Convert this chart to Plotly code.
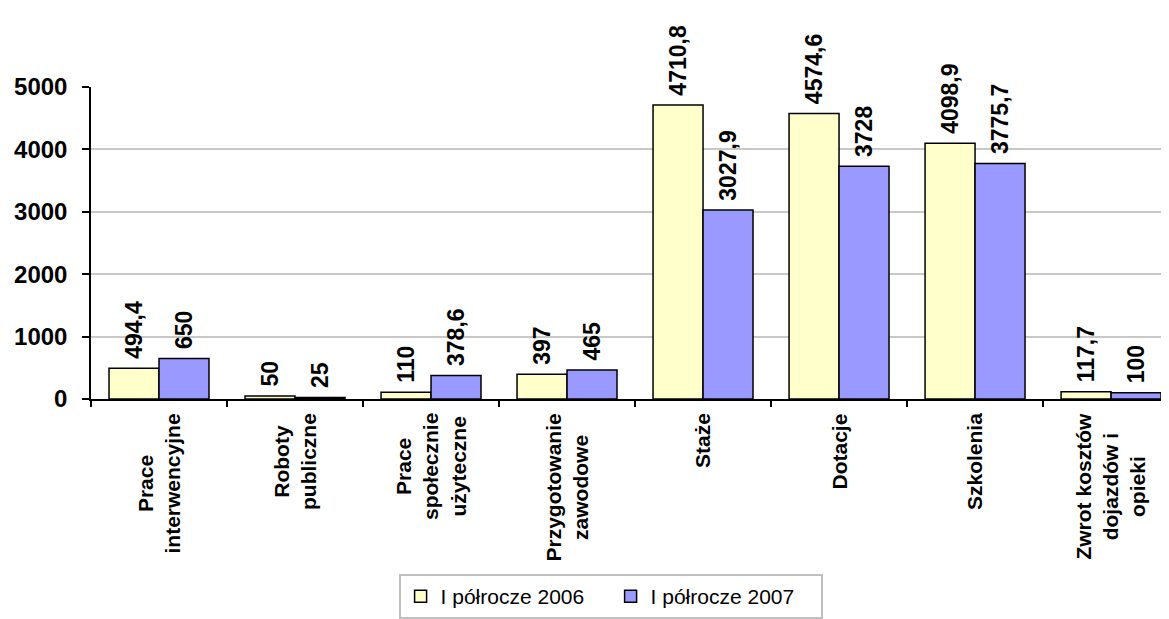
import plotly.graph_objects as go

categories = [
    "Prace<br>interwencyjne",
    "Roboty<br>publiczne",
    "Prace<br>społecznie<br>użyteczne",
    "Przygotowanie<br>zawodowe",
    "Staże",
    "Dotacje",
    "Szkolenia",
    "Zwrot kosztów<br>dojazdów i<br>opieki",
]
h1_2006 = [494.4, 50, 110, 397, 4710.8, 4574.6, 4098.9, 117.7]
h1_2007 = [650, 25, 378.6, 465, 3027.9, 3728, 3775.7, 100]

FONT = "Liberation Sans, Arial, sans-serif"


def fmt(v):
    # polish decimal comma, leading nbsp keeps a small gap above the bar
    return "\u00a0" + f"{v:g}".replace(".", ",")


x_idx = list(range(len(categories)))

fig = go.Figure()
for name, vals, color in [
    ("I półrocze 2006", h1_2006, "#FFFFCC"),
    ("I półrocze 2007", h1_2007, "#9999FF"),
]:
    fig.add_trace(go.Bar(
        x=x_idx,
        y=vals,
        name=name,
        marker=dict(color=color, line=dict(color="black", width=1.5)),
        text=[fmt(v) for v in vals],
        textposition="outside",
        textangle=-90,
        textfont=dict(family=FONT, size=23, color="black", weight="bold"),
        cliponaxis=False,
        constraintext="none",
    ))

# category labels, centred multi-line like the original
for i, cat in enumerate(categories):
    fig.add_annotation(
        x=i, y=-0.04, xref="x", yref="paper",
        text=f"<b>{cat}</b>", textangle=-90,
        xanchor="center", yanchor="top", align="center",
        showarrow=False,
        font=dict(family=FONT, size=21, color="black"),
    )

fig.update_layout(
    width=1161,
    height=611,
    margin=dict(l=83, r=0, t=79, b=220),
    plot_bgcolor="white",
    paper_bgcolor="white",
    barmode="group",
    bargap=0.265,
    bargroupgap=0,
    font=dict(family=FONT, color="black"),
    showlegend=True,
    legend=dict(
        orientation="h",
        x=0.482, xanchor="center",
        y=-0.561, yanchor="top",
        bordercolor="#C0C0C0", borderwidth=2,
        font=dict(family=FONT, size=21, color="black"),
        entrywidth=165,
    ),
    xaxis=dict(
        type="linear",
        range=[-0.5, 7.426],
        showticklabels=False,
        showline=True, linecolor="black", linewidth=1.5,
        showgrid=False,
        tickmode="array",
        tickvals=[i - 0.5 for i in range(9)],
        ticks="outside", ticklen=6, tickwidth=1.5, tickcolor="black",
        zeroline=False,
    ),
    yaxis=dict(
        range=[0, 5000],
        tickvals=[0, 1000, 2000, 3000, 4000, 5000],
        showline=True, linecolor="black", linewidth=1.5,
        ticks="outside", ticklen=7, tickwidth=1.5, tickcolor="black",
        ticklabelstandoff=10,
        showgrid=True, gridcolor="#C8C8C8", gridwidth=1.5,
        zeroline=False,
        tickfont=dict(family=FONT, size=24, color="black", weight="bold"),
    ),
)

fig.write_html("out.html")
